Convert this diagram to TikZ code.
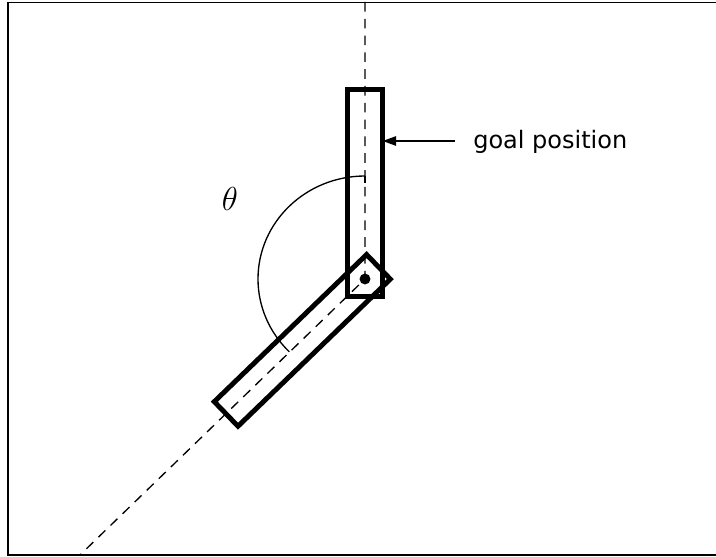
\documentclass[tikz,border=0pt]{standalone}
\usepackage{fontspec}
\setsansfont{DejaVu Sans}
\usetikzlibrary{arrows.meta}

\tikzset{
  link/.style={rectangle,draw,line width=3.7pt,inner sep=0pt,outer sep=0pt},
  axis/.style={line width=1pt,dash pattern=on 7.2pt off 5.4pt},
  frameline/.style={line width=1.3pt}
}

\begin{document}
\begin{tikzpicture}[x=0.75pt,y=-0.75pt,>={Stealth[length=10pt,width=7pt,inset=0pt]}]
  \useasboundingbox (0,0) rectangle (716,556);
  \coordinate (pivot) at (365,279);
  \coordinate (axistop) at (365,2);
  \coordinate (axisend) at (80,555);
  \coordinate (goaltail) at (455,141);
  \coordinate (cornerNW) at (8,2.5);
  \coordinate (cornerSW) at (8,555);
  \coordinate (cornerNE) at (716,2.5);
  \coordinate (cornerSE) at (716,555);
  \draw[frameline] (cornerNE) -- (cornerNW) -- (cornerSW) -- (cornerSE);
  \draw[axis] (axistop) -- (pivot) -- (axisend);
  \node[link,minimum width=26.1pt,minimum height=155.3pt] (upper) at (365.3,192.8) {};
  \node[link,minimum width=158.8pt,minimum height=25.6pt,rotate=44] (lower) at (302.3,340.4) {};
  \node[circle,fill,inner sep=0pt,minimum size=8.2pt] (joint) at (pivot) {};
  \draw[line width=1pt] (365,176) arc[start angle=-90,end angle=-225,x radius=107,y radius=103] coordinate (arcend);
  \draw[line width=1pt] (365,176) -- (365,183);
  \draw[->,line width=1.2pt] (goaltail) -- (upper.east |- goaltail);
  \node[anchor=base west,inner sep=0pt,font=\sffamily\fontsize{18}{20}\selectfont] (goal) at (473,148) {goal position};
  \node[inner sep=0pt,font=\fontsize{28}{32}\selectfont] (angle) at (230,198.5) {$\theta$};
\end{tikzpicture}
\end{document}
